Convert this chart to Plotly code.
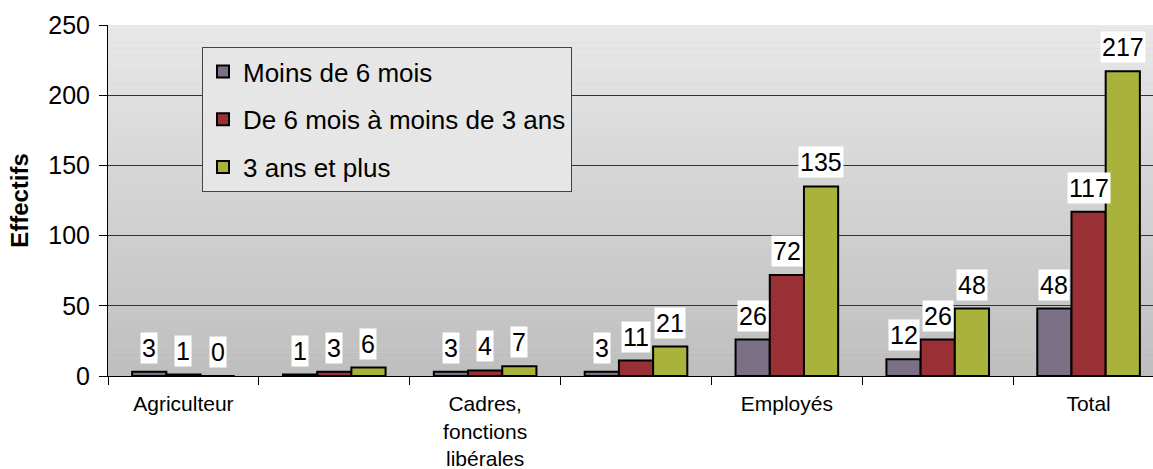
import plotly.graph_objects as go

categories = ["Agriculteur", "Artisans, commerçants", "Cadres, fonctions libérales",
              "Professions intermédiaires", "Employés", "Ouvriers", "Total"]
tick_labels = ["Agriculteur", "", "Cadres,<br>fonctions<br>libérales", "", "Employés", "", "Total"]
series_names = ["Moins de 6 mois", "De 6 mois à moins de 3 ans", "3 ans et plus"]
moins_6_mois = [3, 1, 3, 3, 26, 12, 48]
six_mois_3_ans = [1, 3, 4, 11, 72, 26, 117]
trois_ans_plus = [0, 6, 7, 21, 135, 48, 217]
y_ticks = [0, 50, 100, 150, 200, 250]

colors = ["#7C7087", "#993036", "#A9B23A"]
values = [moins_6_mois, six_mois_3_ans, trois_ans_plus]

W, H = 1153, 469
ML, MR, MT, MB = 108, 0, 25, 93
BARGAP = 0.32
X_RANGE = [-0.5, 6.427]
FONT = "Liberation Sans, Arial, sans-serif"

fig = go.Figure()
for i, (name, vals) in enumerate(zip(series_names, values)):
    fig.add_trace(go.Bar(
        x=categories, y=vals, name=name, legendgroup=f"g{i}",
        marker=dict(color=colors[i], line=dict(color="black", width=2)),
    ))

# data labels with white background
px_per_unit = (W - ML - MR) / (X_RANGE[1] - X_RANGE[0])
bar_w_px = px_per_unit * (1 - BARGAP) / 3
for i, vals in enumerate(values):
    for c, v in zip(categories, vals):
        fig.add_annotation(
            x=c, y=v, text=str(v), showarrow=False, xref="x", yref="y",
            xshift=(i - 1) * bar_w_px, yshift=8, yanchor="bottom",
            bgcolor="white", borderpad=1,
            font=dict(family=FONT, size=25, color="black"),
        )

# gradient background of the plot area
n_bands = 60
for k in range(n_bands):
    t = k / (n_bands - 1)
    g = int(round(0xBE + (0xE8 - 0xBE) * t))
    fig.add_shape(type="rect", xref="x domain", yref="y domain",
                  x0=0, x1=1, y0=k / n_bands, y1=(k + 1) / n_bands,
                  fillcolor=f"rgb({g},{g},{g})", line=dict(width=0), layer="below")

fig.update_layout(
    width=W, height=H,
    margin=dict(l=ML, r=MR, t=MT, b=MB, autoexpand=False),
    paper_bgcolor="white", plot_bgcolor="#d0d0d0",
    barmode="group", bargap=BARGAP, bargroupgap=0,
    font=dict(family=FONT, color="black"),
    legend=dict(
        x=(202 - ML) / (W - ML - MR), y=(376 - 47) / (376 - MT),
        xanchor="left", yanchor="top",
        bgcolor="#e6e6e6", bordercolor="#444", borderwidth=1,
        font=dict(family=FONT, size=26, color="black"), tracegroupgap=11,
        itemsizing="constant",
    ),
    xaxis=dict(
        type="category", range=X_RANGE, tickmode="array",
        tickvals=categories, ticktext=tick_labels, tickson="boundaries",
        ticks="outside", ticklen=8, tickcolor="black", automargin=False,
        showline=True, linecolor="black", linewidth=1,
        showgrid=False, tickfont=dict(size=21), ticklabelstandoff=9,
    ),
    yaxis=dict(
        range=[0, 250], tickvals=y_ticks, ticks="outside", ticklen=8,
        tickcolor="black", showline=True, linecolor="black", linewidth=1,
        showgrid=True, gridcolor="#333", gridwidth=1, zeroline=False,
        tickfont=dict(size=25), ticklabelstandoff=4, automargin=False,
        title=dict(text="<b>Effectifs</b>", font=dict(size=24), standoff=12),
    ),
)

fig.write_html(
    "out.html",
    config={"displayModeBar": False},
    post_script="document.body.style.margin='0';document.body.style.overflow='hidden';",
)
